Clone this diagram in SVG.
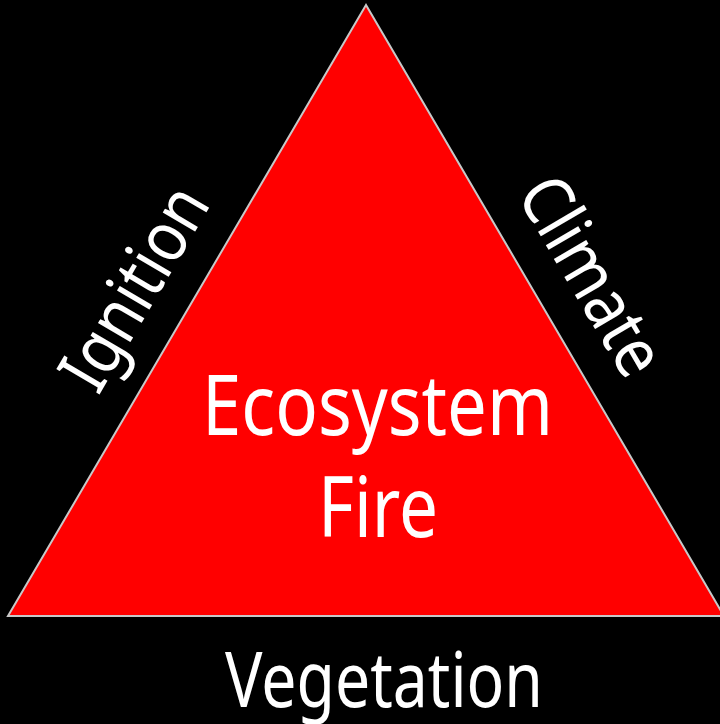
<svg xmlns="http://www.w3.org/2000/svg" width="720" height="724" viewBox="0 0 720 724">
<style>
.t{font-family:"Noto Sans","Open Sans","Liberation Sans",sans-serif;fill:#fff;text-anchor:middle}
</style>
<rect width="720" height="724" fill="#000"/>
<g id="triangle">
<polygon points="366,5 8,616 724,616" fill="#ff0000" stroke="#c8c8c8" stroke-width="2"/>
</g>
<g id="center">
<text class="t" x="377.5" y="435" font-size="84" textLength="351" lengthAdjust="spacingAndGlyphs">Ecosystem</text>
<text class="t" x="378" y="537" font-size="84" textLength="120" lengthAdjust="spacingAndGlyphs">Fire</text>
</g>
<g id="ignition">
<text class="t" font-size="70" textLength="224" lengthAdjust="spacingAndGlyphs" transform="translate(155,300) rotate(-59.6)">Ignition</text>
</g>
<g id="climate">
<text class="t" font-size="70" textLength="218" lengthAdjust="spacingAndGlyphs" transform="translate(571,288) rotate(59.6)">Climate</text>
</g>
<g id="vegetation">
<text class="t" x="384" y="707" font-size="77" textLength="318" lengthAdjust="spacingAndGlyphs">Vegetation</text>
</g>
</svg>
